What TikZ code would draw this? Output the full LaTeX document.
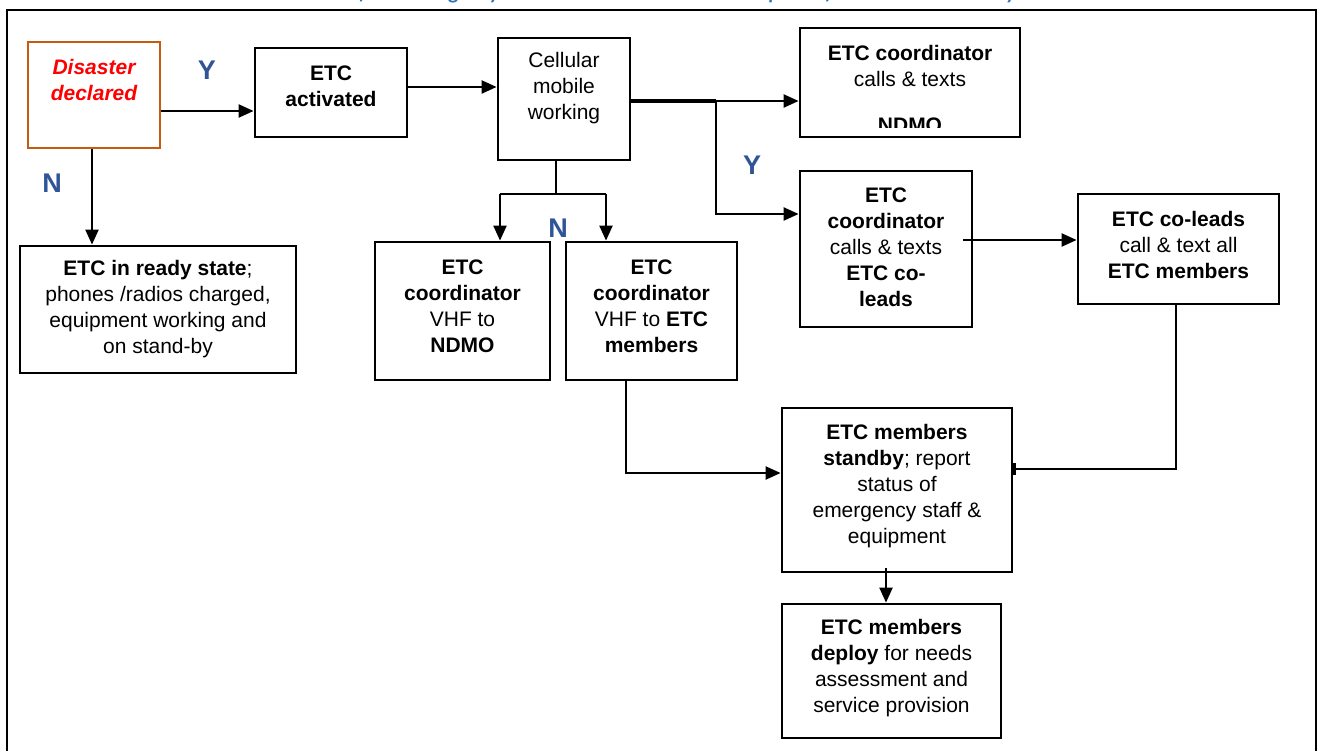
\documentclass[tikz,border=0pt]{standalone}
\usepackage{fontspec}
\setmainfont{Liberation Sans}
\newfontfamily\titlefont{Carlito}
\usetikzlibrary{arrows.meta,calc}
\definecolor{ylblue}{RGB}{47,85,151}
\definecolor{orng}{RGB}{197,90,17}
\definecolor{ttlblue}{RGB}{46,116,181}
\begin{document}
\begin{tikzpicture}[x=1pt,y=-1pt,
  box/.style={draw, line width=2.8pt, inner sep=0pt},
  txt/.style={align=center, font=\fontsize{21pt}{26pt}\selectfont, inner sep=0pt},
  ln/.style={line width=2.2pt},
  arr/.style={line width=2.2pt, -{Triangle[length=15pt,width=13pt]}},
  yn/.style={text=ylblue, font=\fontsize{27pt}{30pt}\selectfont\bfseries, inner sep=0pt}]
\useasboundingbox (0,0) rectangle (1320,751);
\clip (0,0) rectangle (1320,751);
\fill[white] (0,0) rectangle (1320,751);
% title (cut off by the top edge, as in the reference)
\node[anchor=base, text=ttlblue, font=\titlefont\fontsize{21pt}{24pt}\selectfont\bfseries\itshape, inner sep=0pt] (title) at (672,0) {Protocol of the Emergency Telecommunication Cluster response for disaster and ready states};
% frame
\draw[line width=2.8pt] (7,800) -- (7,10) -- (1316,10) -- (1316,800);
% boxes
\node[box, draw=orng, minimum width=132pt, minimum height=106pt] (dis) at (94,95) {};
\node[box, minimum width=152pt, minimum height=89pt] (act) at (331,92.5) {};
\node[box, minimum width=132pt, minimum height=122pt] (cell) at (564,99) {};
\node[box, minimum width=220pt, minimum height=109pt] (c1) at (910,82.5) {};
\node[box, minimum width=172pt, minimum height=156pt] (c2) at (886,249) {};
\node[box, minimum width=201pt, minimum height=110pt] (lead) at (1178.5,249) {};
\node[box, minimum width=276pt, minimum height=127pt] (ready) at (158,309.5) {};
\node[box, minimum width=175pt, minimum height=138pt] (vn) at (462.5,311) {};
\node[box, minimum width=171pt, minimum height=138pt] (vm) at (651.5,311) {};
\node[box, minimum width=230pt, minimum height=164pt] (stby) at (897,490) {};
\node[box, minimum width=219pt, minimum height=134pt] (dep) at (891.5,671) {};
% texts
\node[txt, text=red, font=\fontsize{21pt}{26pt}\selectfont\bfseries\itshape] (dis-t) at (94,80) {Disaster\\declared};
\node[txt, font=\fontsize{21pt}{26pt}\selectfont\bfseries] (act-t) at (331,86) {ETC\\activated};
\node[txt] (cell-t) at (564,88.5) {Cellular\\mobile\\working};
\node[txt] (c1-t) at (910,66) {\textbf{ETC coordinator}\\calls \& texts};
\begin{scope}
\clip (800,28) rectangle (1020,128);
\node[txt, anchor=base, font=\fontsize{21pt}{26pt}\selectfont\bfseries] (c1-n) at (910,133) {NDMO};
\end{scope}
\node[txt] (c2-t) at (886,247.5) {\textbf{ETC}\\\textbf{coordinator}\\calls \& texts\\\textbf{ETC co-}\\\textbf{leads}};
\node[txt] (lead-t) at (1178.5,244.5) {\textbf{ETC co-leads}\\call \& text all\\\textbf{ETC members}};
\node[txt] (ready-t) at (158,309) {\textbf{ETC in ready state};\\phones /radios charged,\\equipment working and\\on stand-by};
\node[txt] (vn-t) at (462.5,306.5) {\textbf{ETC}\\\textbf{coordinator}\\VHF to\\\textbf{NDMO}};
\node[txt] (vm-t) at (651.5,306) {\textbf{ETC}\\\textbf{coordinator}\\VHF to \textbf{ETC}\\\textbf{members}};
\node[txt] (stby-t) at (897,486) {\textbf{ETC members}\\\textbf{standby}; report\\status of\\emergency staff \&\\equipment};
\node[txt] (dep-t) at (891.5,668) {\textbf{ETC members}\\\textbf{deploy} for needs\\assessment and\\service provision};
% Y / N labels
\node[yn] (y1) at (207,70) {Y};
\node[yn] (n1) at (52,183) {N};
\node[yn] (y2) at (752,165) {Y};
\node[yn] (n2) at (558,228) {N};
% connectors
\draw[arr] ([yshift=-16pt]dis.east) -- ([yshift=-16pt]dis.east -| act.west);
\draw[arr] ([yshift=5.5pt]act.east) -- ([yshift=5.5pt]act.east -| cell.west);
\coordinate (br) at (716,101);
\draw[line width=4pt] ([yshift=-2pt]cell.east) -- (br);
\draw[arr] (br) -- (br -| c1.west);
\draw[arr] (br) |- ([yshift=35pt]c2.west);
\draw[arr] ([xshift=-10pt,yshift=9pt]c2.east) -- ([yshift=9pt]c2.east -| lead.west);
\draw[ln, -{Bar[width=12pt]}] ([xshift=-2.5pt]lead.south) |- ([yshift=21pt]stby.east);
\draw[arr] ([xshift=-25.5pt]vm.south) |- ([yshift=17pt]stby.west);
\draw[arr] ([xshift=-11pt,yshift=5pt]stby.south) -- ([xshift=-11pt]stby.south |- dep.north);
\draw[arr] ([xshift=-2pt]dis.south) -- ([xshift=-2pt]dis.south |- ready.north);
\coordinate (nl) at (500,194);
\coordinate (nr) at (606,194);
\draw[ln] ([xshift=-8pt]cell.south) -- ([xshift=-8pt]cell.south |- nl);
\draw[ln] (nl) -- (nr);
\draw[arr] (nl) -- (nl |- vn.north);
\draw[arr] (nr) -- (nr |- vm.north);
\end{tikzpicture}
\end{document}
